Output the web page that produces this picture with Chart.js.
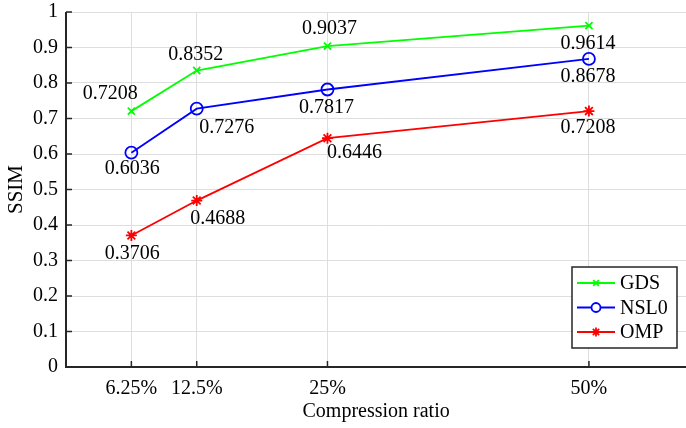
<!DOCTYPE html>
<html>
<head>
<meta charset="utf-8">
<script src="https://cdn.jsdelivr.net/npm/chart.js"></script>
<style>
  html, body { margin: 0; padding: 0; background: #fff; overflow: hidden; }
  #wrap { width: 686px; height: 428px; position: relative; overflow: hidden; }
  /* the canvas is a little wider than the frame: Chart.js keeps room for
     point overflow on the right, which is hidden here so the axis reaches the edge */
  #c { display: block; }
</style>
</head>
<body>
<div id="wrap"><canvas id="c" width="694" height="428"></canvas></div>
<script>
// Compression ratios (percent) and SSIM results per method
const ratios = [6.25, 12.5, 25, 50];
const gdsSSIM = [0.7208, 0.8352, 0.9037, 0.9614];
const nsl0SSIM = [0.6036, 0.7276, 0.7817, 0.8678];
const ompSSIM = [0.3706, 0.4688, 0.6446, 0.7208];
const yTicks = [0, 0.1, 0.2, 0.3, 0.4, 0.5, 0.6, 0.7, 0.8, 0.9, 1];

const FONT = "'Liberation Serif', 'Times New Roman', serif";

// where each value label sits relative to its point (px)
const labelOffsets = [
  [[-21, -17], [-1, -16], [2, -17], [-1, 18]],
  [[1, 16], [30, 19], [-1, 18], [-1, 18]],
  [[1, 18], [21, 18], [27, 15], [-1, 17]]
];
// smaller markers inside the legend
const legendRadius = [4, 4.5, 4.5];

function toXY(values) {
  return ratios.map((r, i) => ({ x: r, y: values[i] }));
}

// MATLAB-like frame: black axes with inward ticks, value labels, boxed legend
const framePlugin = {
  id: 'frame',
  afterDraw(chart) {
    const ctx = chart.ctx;
    const xs = chart.scales.x, ys = chart.scales.y;
    const ca = chart.chartArea;
    ctx.save();
    // axes
    ctx.strokeStyle = '#262626';
    ctx.lineWidth = 2;
    ctx.beginPath();
    ctx.moveTo(ca.left, ca.top);
    ctx.lineTo(ca.left, ca.bottom);
    ctx.lineTo(ca.right, ca.bottom);
    ctx.stroke();
    ctx.lineWidth = 1.5;
    ctx.beginPath();
    yTicks.forEach(v => {
      const y = ys.getPixelForValue(v);
      ctx.moveTo(ca.left, y);
      ctx.lineTo(ca.left + 6, y);
    });
    ratios.forEach(v => {
      const x = xs.getPixelForValue(v);
      ctx.moveTo(x, ca.bottom);
      ctx.lineTo(x, ca.bottom - 6);
    });
    ctx.stroke();

    // value labels
    ctx.fillStyle = '#000';
    ctx.font = '20px ' + FONT;
    ctx.textAlign = 'center';
    ctx.textBaseline = 'middle';
    chart.data.datasets.forEach((ds, di) => {
      ds.data.forEach((p, i) => {
        const x = xs.getPixelForValue(p.x) + labelOffsets[di][i][0];
        const y = ys.getPixelForValue(p.y) + labelOffsets[di][i][1];
        ctx.fillText(p.y.toFixed(4), x, y);
      });
    });

    // legend box
    const bx = 572, by = 267, bw = 105, bh = 81;
    ctx.fillStyle = '#fff';
    ctx.fillRect(bx, by, bw, bh);
    ctx.strokeStyle = '#262626';
    ctx.lineWidth = 1.5;
    ctx.strokeRect(bx, by, bw, bh);
    chart.data.datasets.forEach((ds, di) => {
      const y = by + 16 + di * 24.5;
      ctx.strokeStyle = ds.borderColor;
      ctx.lineWidth = ds.borderWidth;
      ctx.beginPath();
      ctx.moveTo(bx + 5, y);
      ctx.lineTo(bx + 43, y);
      ctx.stroke();
      const opts = {
        pointStyle: ds.pointStyle,
        radius: legendRadius[di],
        rotation: 0,
        borderWidth: ds.pointBorderWidth
      };
      ctx.strokeStyle = ds.borderColor;
      ctx.fillStyle = '#fff';
      ctx.lineWidth = ds.pointBorderWidth;
      if (Chart.helpers && Chart.helpers.drawPoint) {
        Chart.helpers.drawPoint(ctx, opts, bx + 24, y);
      }
      ctx.fillStyle = '#000';
      ctx.font = '20px ' + FONT;
      ctx.textAlign = 'left';
      ctx.textBaseline = 'middle';
      ctx.fillText(ds.label, bx + 48, y + 1);
    });
    ctx.restore();
  }
};

const common = {
  borderWidth: 1.8,
  pointBorderWidth: 1.8,
  pointBackgroundColor: 'rgba(0,0,0,0)',
  tension: 0,
  fill: false
};

new Chart(document.getElementById('c'), {
  type: 'line',
  data: {
    datasets: [
      Object.assign({ label: 'GDS', data: toXY(gdsSSIM), borderColor: '#00ff00', pointBorderColor: '#00ff00', pointStyle: 'crossRot', pointRadius: 5 }, common),
      Object.assign({ label: 'NSL0', data: toXY(nsl0SSIM), borderColor: '#0000ff', pointBorderColor: '#0000ff', pointStyle: 'circle', pointRadius: 6 }, common),
      Object.assign({ label: 'OMP', data: toXY(ompSSIM), borderColor: '#ff0000', pointBorderColor: '#ff0000', pointStyle: 'star', pointRadius: 5.5 }, common)
    ]
  },
  options: {
    responsive: false,
    animation: false,
    events: [],
    layout: { padding: { top: 12, right: 0, bottom: 0, left: 0 } },
    plugins: { legend: { display: false }, tooltip: { enabled: false } },
    scales: {
      x: {
        type: 'linear',
        min: 0,
        max: 59.3,
        afterBuildTicks(scale) { scale.ticks = ratios.map(v => ({ value: v })); },
        afterFit(scale) { scale.height = 61; scale.paddingLeft = 0; scale.paddingRight = 0; },
        border: { display: false },
        grid: { color: '#dedede', lineWidth: 1, drawTicks: false },
        ticks: {
          padding: 10,
          color: '#000',
          font: { family: FONT, size: 20 },
          callback: v => v + '%',
          maxRotation: 0,
          autoSkip: false
        },
        title: {
          display: true,
          text: 'Compression ratio',
          color: '#000',
          font: { family: FONT, size: 20 },
          padding: { top: 0, bottom: 4 }
        }
      },
      y: {
        min: 0,
        max: 1,
        afterBuildTicks(scale) { scale.ticks = yTicks.map(v => ({ value: v })); },
        afterFit(scale) { scale.width = 66; scale.paddingTop = 0; scale.paddingBottom = 0; },
        border: { display: false },
        grid: { color: '#dedede', lineWidth: 1, drawTicks: false },
        ticks: {
          padding: 8,
          color: '#000',
          font: { family: FONT, size: 20 },
          callback: v => String(Math.round(v * 10) / 10)
        },
        title: {
          display: true,
          text: 'SSIM',
          color: '#000',
          font: { family: FONT, size: 21 },
          padding: { top: 4, bottom: 0 }
        }
      }
    }
  },
  plugins: [framePlugin]
});
</script>
</body>
</html>
